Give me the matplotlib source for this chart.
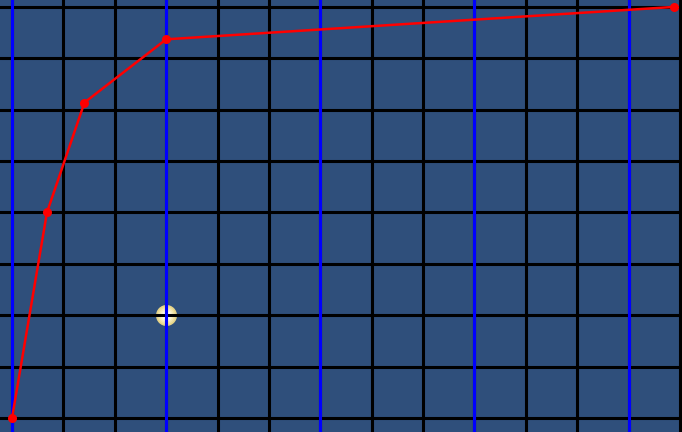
import matplotlib
matplotlib.use('Agg')
import matplotlib.pyplot as plt
import numpy

# curve points (grid units)
curve_x = [0.0, 0.68, 1.41, 3.0, 12.88]
curve_y = [0.0, 4.0, 6.14, 7.37, 8.0]

# the bright spot
spot_x = [3.0]
spot_y = [2.0]

grid_x = list(range(0, 14))
grid_y = list(range(0, 9))
blue_x = [0, 3, 6, 9, 12]

bg = '#2f4f7b'

fig = plt.figure(figsize=(6.82, 4.32), dpi=100)
fig.patch.set_facecolor(bg)
ax = fig.add_axes([0, 0, 1, 1])
ax.set_facecolor(bg)

ax.set_xlim(-0.234, 13.04)
ax.set_ylim(-0.272, 8.135)

# glowing spot: stacked discs, pale yellow edge to white middle
px = 72.0 / 100
radii = [10.5, 9, 7.5, 6, 4.5, 3]
colours = ['#e6d488', '#eedf9e', '#f4e9b6', '#f9f2cf', '#fdf9e6', '#ffffff']
for r, c in zip(radii, colours):
    ax.scatter(spot_x, spot_y, s=(2 * r * px) ** 2, color=c, linewidths=0, zorder=1)

for gx in grid_x:
    ax.axvline(gx, color='black', lw=2.2, zorder=2)
for gy in grid_y:
    ax.axhline(gy, color='black', lw=2.2, zorder=2)
for bx in blue_x:
    ax.axvline(bx, color='#0000ff', lw=2.2, zorder=3)

ax.plot(curve_x, curve_y, color='#ff0000', lw=1.8, marker='o', ms=6.5,
        markeredgewidth=0, zorder=4, clip_on=False)

ax.set_xticks([])
ax.set_yticks([])
for s in ax.spines.values():
    s.set_visible(False)

plt.savefig('out.png', dpi=100, facecolor=bg)
